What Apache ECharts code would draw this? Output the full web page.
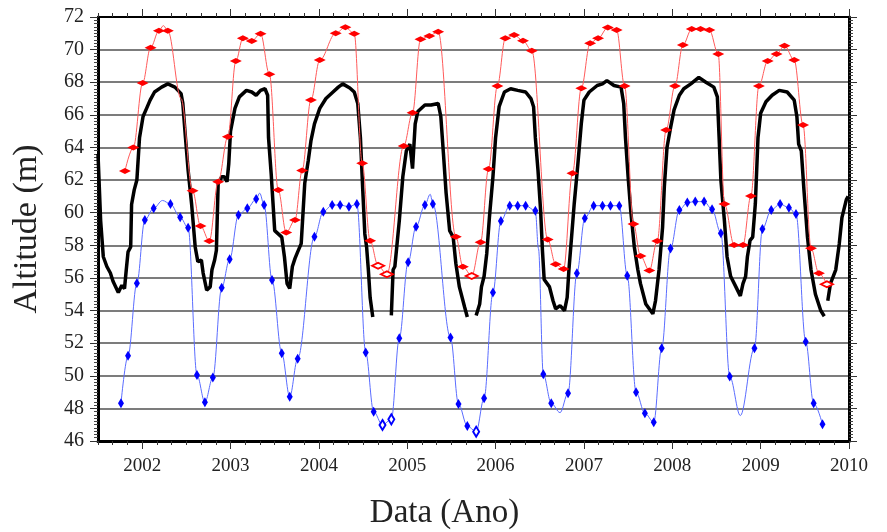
<!DOCTYPE html>
<html>
<head>
<meta charset="utf-8">
<script src="https://cdn.jsdelivr.net/npm/echarts@6/dist/echarts.min.js"></script>
<style>
html, body { margin: 0; padding: 0; background: #fff; }
#chart { width: 887px; height: 532px; }
</style>
</head>
<body>
<div id="chart"></div>
<script>
// tick labels
const yearTicks = [2002, 2003, 2004, 2005, 2006, 2007, 2008, 2009, 2010];

// black: daily altitude (null = gap)
const blackYear = [2001.50, 2001.53, 2001.56, 2001.60, 2001.64, 2001.67, 2001.73, 2001.77, 2001.80, 2001.82,
  2001.84, 2001.87, 2001.88, 2001.91, 2001.94, 2001.97, 2002.01, 2002.05, 2002.09, 2002.14,
  2002.22, 2002.29, 2002.37, 2002.44, 2002.46, 2002.49, 2002.52, 2002.56, 2002.60, 2002.63,
  2002.67, 2002.69, 2002.73, 2002.77, 2002.79, 2002.82, 2002.84, 2002.86, 2002.90, 2002.93,
  2002.96, 2002.98, 2003.00, 2003.05, 2003.10, 2003.18, 2003.24, 2003.29, 2003.34, 2003.39,
  2003.42, 2003.43, 2003.46, 2003.50, 2003.54, 2003.58, 2003.61, 2003.64, 2003.67, 2003.70,
  2003.73, 2003.76, 2003.80, 2003.84, 2003.88, 2003.91, 2003.95, 2004.01, 2004.08, 2004.16,
  2004.22, 2004.27, 2004.35, 2004.40, 2004.44, 2004.47, 2004.50, 2004.52, 2004.54, 2004.56,
  2004.58, 2004.61, 2004.70, 2004.82, 2004.84, 2004.86, 2004.91, 2004.95, 2004.99, 2005.03,
  2005.06, 2005.09, 2005.12, 2005.20, 2005.27, 2005.35, 2005.38, 2005.41, 2005.44, 2005.48,
  2005.52, 2005.55, 2005.59, 2005.65, 2005.68, 2005.73, 2005.78, 2005.82, 2005.84, 2005.87,
  2005.90, 2005.93, 2005.97, 2006.00, 2006.04, 2006.10, 2006.17, 2006.25, 2006.34, 2006.40,
  2006.43, 2006.45, 2006.48, 2006.51, 2006.53, 2006.55, 2006.61, 2006.65, 2006.68, 2006.73,
  2006.78, 2006.81, 2006.83, 2006.86, 2006.89, 2006.93, 2006.97, 2007.00, 2007.06, 2007.15,
  2007.21, 2007.26, 2007.34, 2007.42, 2007.45, 2007.47, 2007.50, 2007.53, 2007.57, 2007.61,
  2007.64, 2007.70, 2007.78, 2007.81, 2007.85, 2007.89, 2007.91, 2007.94, 2007.98, 2008.02,
  2008.08, 2008.13, 2008.21, 2008.30, 2008.38, 2008.47, 2008.51, 2008.53, 2008.55, 2008.59,
  2008.62, 2008.66, 2008.72, 2008.77, 2008.80, 2008.83, 2008.85, 2008.88, 2008.91, 2008.94,
  2008.97, 2009.00, 2009.06, 2009.13, 2009.21, 2009.30, 2009.38, 2009.41, 2009.43, 2009.46,
  2009.49, 2009.53, 2009.57, 2009.62, 2009.68, 2009.72, 2009.74, 2009.76, 2009.79, 2009.85,
  2009.89, 2009.92, 2009.97, 2009.99];
const blackAlt = [63.6, 59.5, 57.3, 56.7, 56.3, 55.8, 55.1, 55.55, 55.35, 56.5,
  57.6, 57.9, 60.5, 61.4, 62.0, 64.6, 65.9, 66.4, 66.9, 67.4,
  67.7, 67.9, 67.7, 67.3, 66.7, 64.6, 62.6, 60.5, 57.9, 57.0,
  57.1, 56.3, 55.25, 55.45, 56.5, 57.1, 57.7, 61.8, 62.2, 62.2,
  61.9, 63.0, 65.0, 66.4, 67.1, 67.5, 67.4, 67.2, 67.5, 67.6,
  67.2, 64.6, 62.4, 58.9, 58.7, 58.5, 57.3, 55.65, 55.35, 56.7,
  57.2, 57.6, 58.1, 61.8, 63.2, 64.4, 65.45, 66.4, 67.0, 67.4,
  67.7, 67.9, 67.65, 67.4, 66.7, 64.6, 61.0, 58.7, 57.9, 56.5,
  54.8, 53.6, null, 53.7, 56.5, 56.7, 59.5, 62.2, 63.8, 64.2,
  62.7, 65.45, 66.2, 66.6, 66.6, 66.7, 65.9, 63.6, 61.2, 58.9,
  58.5, 56.9, 55.45, 54.2, 53.6, null, 53.7, 54.4, 55.45, 56.1,
  57.5, 59.7, 62.2, 64.6, 66.5, 67.4, 67.6, 67.5, 67.4, 67.0,
  66.5, 64.6, 62.6, 60.1, 57.7, 55.9, 55.45, 54.6, 54.1, 54.3,
  54.0, 54.8, 56.5, 58.5, 60.55, 62.9, 65.45, 66.9, 67.4, 67.8,
  67.9, 68.1, 67.8, 67.7, 66.7, 64.6, 62.2, 60.1, 57.9, 56.5,
  55.65, 54.4, 53.8, 54.6, 56.5, 59.1, 61.6, 64.0, 65.2, 66.3,
  67.2, 67.6, 67.9, 68.3, 68.0, 67.7, 67.1, 64.6, 62.0, 59.5,
  57.3, 56.1, 55.45, 54.9, 55.65, 56.1, 57.3, 58.3, 58.5, 60.55,
  64.6, 66.1, 66.8, 67.2, 67.5, 67.4, 66.9, 65.9, 64.2, 63.8,
  61.4, 58.5, 56.5, 55.0, 54.0, 53.65, null, 54.6, 55.65, 56.5,
  58.1, 59.7, 60.8, 61.0];

// red: maximum (f = filled marker, o = open marker, c = curve only)
const redYear = [2001.805, 2001.90, 2002.005, 2002.095, 2002.19, 2002.24, 2002.29, 2002.44, 2002.57, 2002.66,
  2002.76, 2002.86, 2002.97, 2003.06, 2003.14, 2003.24, 2003.34, 2003.44, 2003.54, 2003.63,
  2003.73, 2003.81, 2003.91, 2004.01, 2004.19, 2004.30, 2004.40, 2004.49, 2004.58, 2004.67,
  2004.77, 2004.96, 2005.06, 2005.15, 2005.25, 2005.35, 2005.55, 2005.63, 2005.73, 2005.83,
  2005.92, 2006.02, 2006.11, 2006.21, 2006.31, 2006.41, 2006.59, 2006.68, 2006.77, 2006.87,
  2006.97, 2007.07, 2007.16, 2007.27, 2007.37, 2007.46, 2007.56, 2007.64, 2007.74, 2007.83,
  2007.93, 2008.03, 2008.12, 2008.22, 2008.32, 2008.42, 2008.52, 2008.59, 2008.70, 2008.80,
  2008.89, 2008.98, 2009.08, 2009.18, 2009.27, 2009.38, 2009.48, 2009.57, 2009.66, 2009.75];
const redAlt = [62.56, 64.0, 67.95, 70.12, 71.16, 71.47, 71.16, 67.0, 61.35, 59.19,
  58.27, 61.9, 64.66, 69.3, 70.69, 70.53, 70.98, 68.49, 61.39, 58.78,
  59.55, 62.58, 66.91, 69.36, 71.0, 71.37, 70.98, 63.03, 58.28, 56.75,
  56.22, 64.09, 66.13, 70.63, 70.84, 71.10, 58.53, 56.69, 56.12, 58.19,
  62.68, 67.77, 70.69, 70.90, 70.55, 69.93, 58.36, 56.84, 56.55, 62.42,
  67.63, 70.39, 70.69, 71.35, 71.2, 67.77, 59.31, 57.35, 56.45, 58.27,
  65.07, 67.77, 70.28, 71.26, 71.26, 71.2, 69.73, 60.53, 58.02, 58.02,
  61.03, 67.77, 69.3, 69.73, 70.24, 69.36, 65.38, 57.82, 56.28, 55.61];
const redKind = ['f', 'f', 'f', 'f', 'f', 'c', 'f', 'c', 'f', 'f',
  'f', 'f', 'f', 'f', 'f', 'f', 'f', 'f', 'f', 'f',
  'f', 'f', 'f', 'f', 'f', 'f', 'f', 'f', 'f', 'o',
  'o', 'f', 'f', 'f', 'f', 'f', 'f', 'f', 'o', 'f',
  'f', 'f', 'f', 'f', 'f', 'f', 'f', 'f', 'f', 'f',
  'f', 'f', 'f', 'f', 'f', 'f', 'f', 'f', 'f', 'f',
  'f', 'f', 'f', 'f', 'f', 'f', 'f', 'f', 'f', 'f',
  'f', 'f', 'f', 'f', 'f', 'f', 'f', 'f', 'f', 'o'];

// blue: minimum
const blueYear = [2001.76, 2001.84, 2001.94, 2002.03, 2002.13, 2002.23, 2002.32, 2002.43, 2002.52, 2002.62,
  2002.71, 2002.80, 2002.90, 2002.99, 2003.09, 2003.19, 2003.29, 2003.33, 2003.38, 2003.47,
  2003.58, 2003.67, 2003.76, 2003.95, 2004.05, 2004.15, 2004.24, 2004.34, 2004.43, 2004.53,
  2004.62, 2004.72, 2004.82, 2004.91, 2005.01, 2005.10, 2005.20, 2005.26, 2005.29, 2005.49,
  2005.58, 2005.68, 2005.78, 2005.87, 2005.97, 2006.06, 2006.16, 2006.25, 2006.34, 2006.45,
  2006.485, 2006.54, 2006.63, 2006.73, 2006.82, 2006.92, 2007.01, 2007.11, 2007.21, 2007.30,
  2007.40, 2007.49, 2007.59, 2007.69, 2007.79, 2007.88, 2007.98, 2008.08, 2008.17, 2008.26,
  2008.36, 2008.45, 2008.55, 2008.65, 2008.77, 2008.93, 2009.02, 2009.12, 2009.22, 2009.32,
  2009.40, 2009.51, 2009.60, 2009.70];
const blueAlt = [48.31, 51.23, 55.67, 59.55, 60.27, 60.75, 60.53, 59.72, 59.08, 50.05,
  48.38, 49.89, 55.4, 57.14, 59.86, 60.27, 60.84, 61.2, 60.47, 55.87,
  51.38, 48.72, 51.05, 58.53, 60.06, 60.47, 60.47, 60.37, 60.53, 51.42,
  47.8, 46.98, 47.33, 52.3, 56.96, 59.14, 60.47, 61.13, 60.53, 52.34,
  48.27, 46.92, 46.57, 48.62, 55.1, 59.49, 60.43, 60.43, 60.43, 60.12,
  57.8, 50.09, 48.31, 47.74, 48.93, 56.29, 59.66, 60.43, 60.43, 60.43,
  60.43, 56.14, 48.99, 47.7, 47.15, 51.69, 57.8, 60.17, 60.62, 60.68,
  60.68, 60.21, 58.74, 49.95, 47.56, 51.69, 59.0, 60.17, 60.53, 60.31,
  59.92, 52.09, 48.31, 47.03];
const blueKind = ['f', 'f', 'f', 'f', 'f', 'c', 'f', 'f', 'f', 'f',
  'f', 'f', 'f', 'f', 'f', 'f', 'f', 'c', 'f', 'f',
  'f', 'f', 'f', 'f', 'f', 'f', 'f', 'f', 'f', 'f',
  'f', 'o', 'o', 'f', 'f', 'f', 'f', 'c', 'f', 'f',
  'f', 'f', 'o', 'f', 'f', 'f', 'f', 'f', 'f', 'f',
  'c', 'f', 'f', 'c', 'f', 'f', 'f', 'f', 'f', 'f',
  'f', 'f', 'f', 'f', 'f', 'f', 'f', 'f', 'f', 'f',
  'f', 'f', 'f', 'f', 'c', 'f', 'f', 'f', 'f', 'f',
  'f', 'f', 'f', 'f'];

function pts(xs, ys, kinds) {
  return xs.map(function (x, i) {
    const k = kinds[i];
    return {
      value: [x, ys[i]],
      symbol: k === 'c' ? 'none' : (k === 'o' ? 'emptyDiamond' : 'diamond')
    };
  });
}

const font = 'Liberation Serif';
const chart = echarts.init(document.getElementById('chart'));
const isYear = function (v) { return Math.abs(v - Math.round(v)) < 1e-6; };

const option = {
  animation: false,
  grid: { left: 98, right: 38, top: 17, bottom: 91, outerBoundsMode: 'none', containLabel: false },
  xAxis: [
    {
      type: 'value', position: 'bottom', min: 2001.5, max: 2010, interval: 1 / 6,
      axisLine: { lineStyle: { color: '#000', width: 3 } },
      axisTick: { length: 4, lineStyle: { color: '#333', width: 1 } },
      axisLabel: { show: false },
      splitLine: { show: false }
    },
    {
      type: 'value', position: 'bottom', min: 2001.5, max: 2010,
      axisLine: { show: false },
      axisTick: { customValues: yearTicks, length: 8, lineStyle: { color: '#333', width: 1 } },
      axisLabel: {
        customValues: yearTicks, margin: 16, fontFamily: font, fontSize: 19, color: '#222',
        formatter: function (v) { return isYear(v) ? String(Math.round(v)) : ''; }
      },
      splitLine: { show: false },
      name: 'Data (Ano)', nameLocation: 'middle', nameGap: 56,
      nameTextStyle: { fontFamily: font, fontSize: 33, color: '#222', padding: [0, 58, 0, 0] }
    },
    {
      type: 'value', position: 'top', min: 2001.5, max: 2010, interval: 1 / 6,
      axisLine: { lineStyle: { color: '#000', width: 2 } },
      axisTick: { length: 4, lineStyle: { color: '#333', width: 1 } },
      axisLabel: { show: false },
      splitLine: { show: false }
    },
    {
      type: 'value', position: 'top', min: 2001.5, max: 2010,
      axisLine: { show: false },
      axisTick: { customValues: yearTicks, length: 8, lineStyle: { color: '#333', width: 1 } },
      axisLabel: { show: false },
      splitLine: { show: false }
    }
  ],
  yAxis: [
    {
      type: 'value', position: 'left', min: 46, max: 72, interval: 2,
      axisLine: { show: true, lineStyle: { color: '#000', width: 3 } },
      axisTick: { length: 8, lineStyle: { color: '#333', width: 1 } },
      minorTick: { show: true, splitNumber: 10, length: 4, lineStyle: { color: '#444', width: 1 } },
      axisLabel: { margin: 14, fontFamily: font, fontSize: 20, color: '#222' },
      splitLine: { show: true, lineStyle: { color: '#7c7c7c', width: 2 } },
      name: 'Altitude (m)', nameLocation: 'middle', nameGap: 54,
      nameTextStyle: { fontFamily: font, fontSize: 34, color: '#222' }
    },
    {
      type: 'value', position: 'right', min: 46, max: 72, interval: 2,
      axisLine: { show: true, lineStyle: { color: '#000', width: 3 } },
      axisTick: { length: 8, lineStyle: { color: '#333', width: 1 } },
      minorTick: { show: true, splitNumber: 10, length: 4, lineStyle: { color: '#444', width: 1 } },
      axisLabel: { show: false },
      splitLine: { show: false }
    }
  ],
  series: [
    {
      name: 'diaria', type: 'line', xAxisIndex: 0, yAxisIndex: 0,
      data: blackYear.map(function (x, i) { return [x, blackAlt[i] === null ? '-' : blackAlt[i]]; }),
      showSymbol: false, connectNulls: false,
      lineStyle: { color: '#000', width: 3.5 }, z: 3
    },
    {
      name: 'minima', type: 'line', xAxisIndex: 0, yAxisIndex: 0,
      data: pts(blueYear, blueAlt, blueKind),
      smooth: 0.35, smoothMonotone: 'x',
      symbolSize: [6, 10],
      itemStyle: { color: '#0000ff' },
      lineStyle: { color: '#5a6cff', width: 1 }, z: 4
    },
    {
      name: 'maxima', type: 'line', xAxisIndex: 0, yAxisIndex: 0,
      data: pts(redYear, redAlt, redKind),
      smooth: 0.35, smoothMonotone: 'x',
      symbolSize: [12, 6],
      itemStyle: { color: '#ff0000' },
      lineStyle: { color: '#ff5a5a', width: 1 }, z: 4
    }
  ]
};

chart.setOption(option);
</script>
</body>
</html>
